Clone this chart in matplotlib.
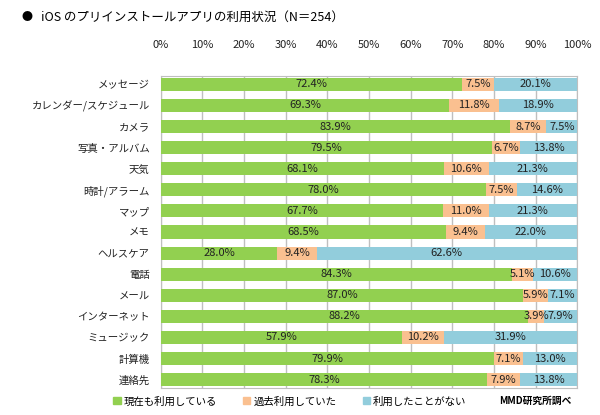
import matplotlib
matplotlib.use("Agg")
import matplotlib.pyplot as plt
from matplotlib.patches import Patch
import numpy as np

plt.rcParams['font.family'] = ['Noto Sans CJK JP', 'DejaVu Sans']

apps = ["メッセージ", "カレンダー/スケジュール", "カメラ", "写真・アルバム", "天気",
        "時計/アラーム", "マップ", "メモ", "ヘルスケア", "電話", "メール",
        "インターネット", "ミュージック", "計算機", "連絡先"]
current = [72.4, 69.3, 83.9, 79.5, 68.1, 78.0, 67.7, 68.5, 28.0, 84.3, 87.0, 88.2, 57.9, 79.9, 78.3]
past = [7.5, 11.8, 8.7, 6.7, 10.6, 7.5, 11.0, 9.4, 9.4, 5.1, 5.9, 3.9, 10.2, 7.1, 7.9]
never = [20.1, 18.9, 7.5, 13.8, 21.3, 14.6, 21.3, 22.0, 62.6, 10.6, 7.1, 7.9, 31.9, 13.0, 13.8]
series_names = ["現在も利用している", "過去利用していた", "利用したことがない"]
colors = ["#92D050", "#FAC090", "#92CDDC"]

fig = plt.figure(figsize=(6, 4.15), dpi=100)
ax = fig.add_axes([0.268, 0.065, 0.694, 0.752])

y = np.arange(len(apps))
left = np.zeros(len(apps))
for vals, col in zip([current, past, never], colors):
    vals = np.array(vals)
    ax.barh(y, vals, left=left, height=0.62, color=col, zorder=3)
    for yi, l, v in zip(y, left, vals):
        ax.text(l + v / 2, yi, f"{v:.1f}%", ha="center", va="center",
                fontsize=8, color="#222222", zorder=4)
    left += vals

ax.set_xlim(0, 100)
ax.set_ylim(len(apps) - 0.6, -0.4)
ax.set_xticks(np.arange(0, 101, 10))
ax.set_xticklabels([f"{t}%" for t in range(0, 101, 10)])
ax.xaxis.tick_top()
ax.set_yticks(y)
ax.set_yticklabels(apps)
ax.tick_params(axis="both", length=0, labelsize=7.5, colors="#222222")
ax.tick_params(axis="x", pad=19, labelsize=8)
ax.tick_params(axis="y", pad=8)
ax.grid(axis="x", color="#BFBFBF", linewidth=1, zorder=0)
for s in ax.spines.values():
    s.set_color("#BFBFBF")

fig.text(0.035, 0.958, "●", fontsize=8, va="center", ha="left")
fig.text(0.068, 0.958, "iOS のプリインストールアプリの利用状況（N＝254）",
         fontsize=9, va="center", ha="left")

handles = [Patch(color=c) for c in colors]
fig.legend(handles, series_names, loc="center", bbox_to_anchor=(0.483, 0.033),
           ncol=3, frameon=False, fontsize=7.5, handlelength=0.7,
           handleheight=0.7, handletextpad=0.3, columnspacing=2.5)
fig.text(0.893, 0.033, "MMD研究所調べ", fontsize=7, fontweight="bold",
         va="center", ha="center")

fig.savefig("out.png", dpi=100)
